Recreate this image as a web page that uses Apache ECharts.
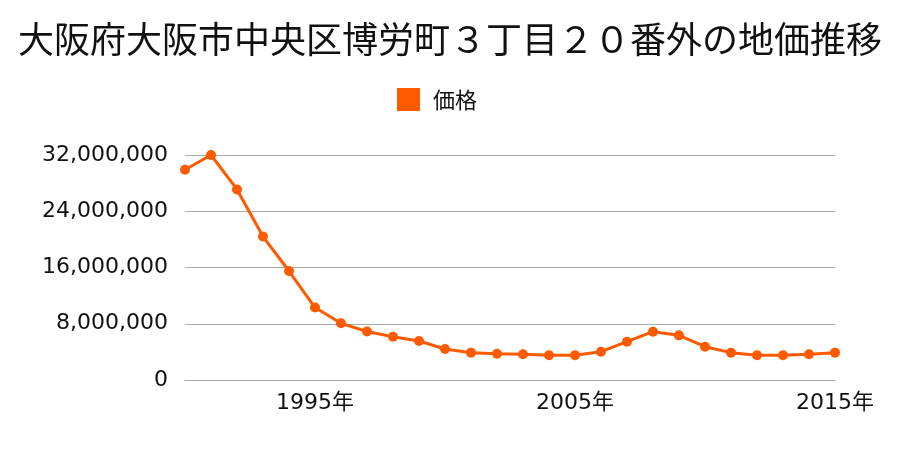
<!DOCTYPE html>
<html><head><meta charset="utf-8">
<script src="https://cdn.jsdelivr.net/npm/echarts@6/dist/echarts.min.js"></script>
<style>html,body{margin:0;padding:0;background:#fff}#c{width:900px;height:450px}</style>
</head><body><div id="c"></div>
<script>
const titleText = '大阪府大阪市中央区博労町３丁目２０番外の地価推移';
const seriesName = '価格';
const years = ['1990','1991','1992','1993','1994','1995','1996','1997','1998','1999','2000','2001','2002','2003','2004','2005','2006','2007','2008','2009','2010','2011','2012','2013','2014','2015'];
const prices = [29900000,32000000,27100000,20400000,15500000,10300000,8060000,6900000,6160000,5550000,4410000,3890000,3740000,3650000,3510000,3510000,4030000,5450000,6870000,6350000,4740000,3890000,3510000,3510000,3650000,3890000];
const shownYears = ['1995','2005','2015'];
const FONT = '"Noto Sans CJK JP", sans-serif';
const NUMFONT = '"DejaVu Sans", "Noto Sans CJK JP", sans-serif';
const chart = echarts.init(document.getElementById('c'), null, {renderer:'canvas'});
chart.setOption({
  animation:false,
  title:{text:titleText,left:'center',top:16,textStyle:{fontFamily:FONT,fontSize:36,fontWeight:'normal',color:'#111'}},
  legend:{data:[seriesName],top:83,left:392,itemWidth:23,itemHeight:23,icon:'rect',itemGap:10,
    textStyle:{fontFamily:FONT,fontSize:22,color:'#111',padding:[0,0,0,8]}},
  grid:{left:185,right:65,top:155,bottom:70},
  xAxis:{type:'category',data:years,boundaryGap:false,
    axisLine:{lineStyle:{color:'#aaa'}},axisTick:{show:false},
    axisLabel:{interval:(i,v)=>shownYears.includes(v),formatter:v=>v+'年',fontFamily:NUMFONT,fontSize:22,color:'#111',margin:12},
    splitLine:{show:false}},
  yAxis:{type:'value',min:0,max:32000000,interval:8000000,
    axisLine:{show:false},axisTick:{show:false},
    axisLabel:{formatter:v=>v.toLocaleString('en-US'),fontFamily:NUMFONT,fontSize:22,color:'#111',margin:17},
    splitLine:{lineStyle:{color:'#aaa',width:1}}},
  series:[{name:seriesName,type:'line',data:prices,color:'#ff5a00',
    lineStyle:{width:3},symbol:'circle',symbolSize:10,itemStyle:{color:'#ff5a00'}}]
});
</script></body></html>
